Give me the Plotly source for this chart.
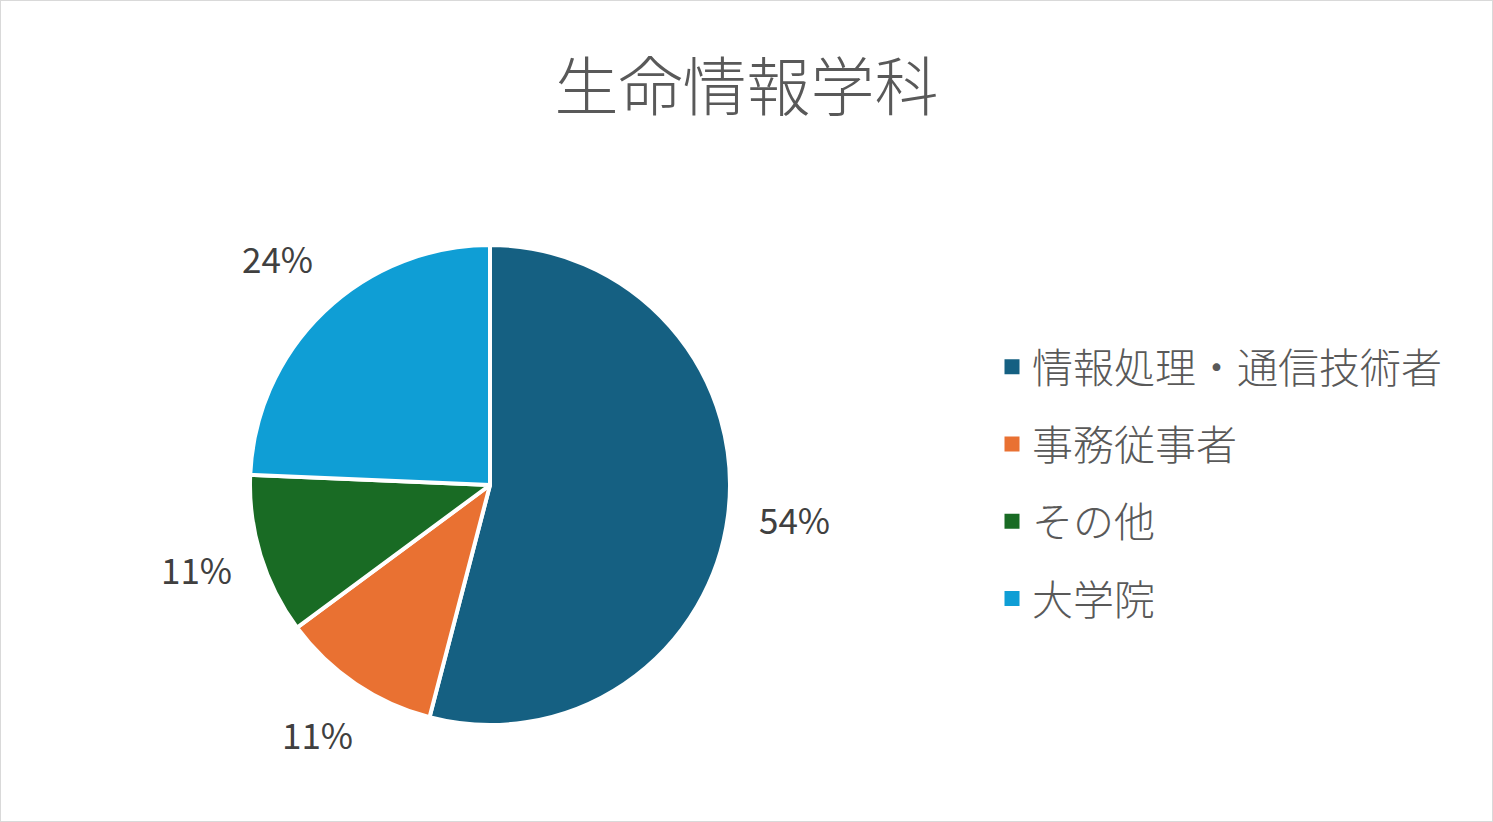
import math
import plotly.graph_objects as go

# 生命情報学科 の進路内訳
categories = ["情報処理・通信技術者", "事務従事者", "その他", "大学院"]
counts = [20, 4, 4, 9]
colors = ["#156082", "#E97132", "#196B24", "#0F9ED5"]

W, H = 1493, 822
font_family = "Noto Sans CJK JP, Noto Sans, sans-serif"

# pie placement (pixels)
cx, cy, R = 490, 485, 240
label_r = 1.28 * R

fig = go.Figure()
fig.add_trace(
    go.Pie(
        labels=categories,
        values=counts,
        marker=dict(colors=colors, line=dict(color="white", width=4)),
        sort=False,
        direction="clockwise",
        rotation=0,
        textinfo="none",
        showlegend=False,
        domain=dict(x=[(cx - R) / W, (cx + R) / W], y=[1 - (cy + R) / H, 1 - (cy - R) / H]),
        hoverinfo="label+percent",
    )
)

# percent labels placed outside each slice, like the Excel chart
total = sum(counts)
start = 0
annotations = []
for c in counts:
    mid = (start + c / 2) / total * 2 * math.pi
    start += c
    annotations.append(
        dict(
            x=(cx + label_r * math.sin(mid)) / W,
            y=1 - (cy - 6 - label_r * math.cos(mid)) / H,
            xref="paper", yref="paper",
            text=f"{round(100 * c / total)}%",
            showarrow=False,
            xanchor="center", yanchor="middle",
            font=dict(size=35, color="#404040", family=font_family),
        )
    )

# legend entries as separate traces so the row gap can be set
for name, col in zip(categories, colors):
    fig.add_trace(
        go.Scatter(
            x=[None], y=[None], mode="markers", name=name,
            legendgroup=name,
            marker=dict(symbol="square", size=15, color=col),
        )
    )

fig.update_layout(
    width=W,
    height=H,
    margin=dict(l=0, r=0, t=0, b=0),
    paper_bgcolor="white",
    plot_bgcolor="white",
    title=dict(
        text="生命情報学科",
        x=0.5, xanchor="center",
        y=1 - 88 / H, yanchor="middle",
        font=dict(size=64, color="#595959", family=font_family, weight=300),
    ),
    legend=dict(
        x=992 / W, xanchor="left",
        y=1 - 483 / H, yanchor="middle",
        font=dict(size=41, color="#595959", family=font_family, weight=300),
        tracegroupgap=21,
        bgcolor="rgba(0,0,0,0)",
    ),
    annotations=annotations,
    xaxis=dict(visible=False),
    yaxis=dict(visible=False),
    shapes=[
        dict(type="rect", xref="paper", yref="paper", x0=0, y0=0, x1=1, y1=1,
             line=dict(color="#D9D9D9", width=2))
    ],
)

fig.write_html(
    "out.html",
    config={"displayModeBar": False},
    post_script="document.body.style.margin='0';",
)
